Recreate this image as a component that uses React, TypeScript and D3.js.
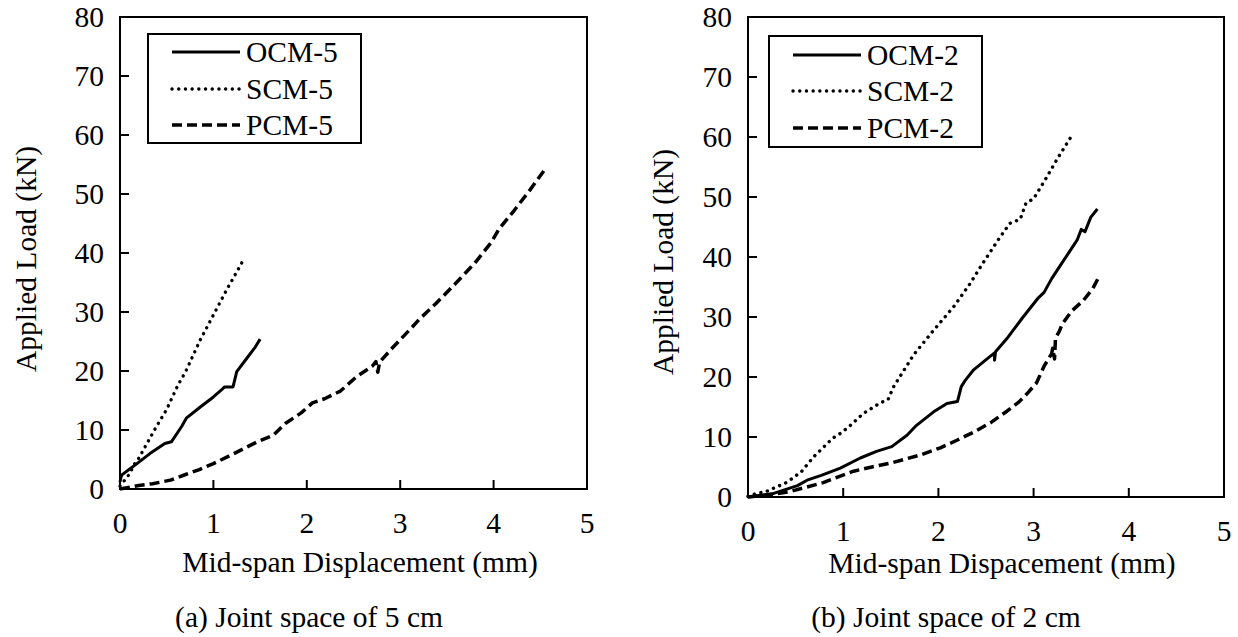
import React from "react";
import * as d3 from "d3";

// displacement (mm), load (kN)
const ocm5: [number, number][] = [
  [0, 1.2], [0.01, 2.0], [0.02, 2.4], [0.14, 3.8], [0.32, 6.0], [0.48, 7.7], [0.55, 8.0],
  [0.66, 10.6], [0.71, 12.0], [0.86, 13.9], [1.0, 15.6], [1.08, 16.7], [1.12, 17.3],
  [1.21, 17.3], [1.25, 19.9], [1.36, 22.2], [1.45, 24.1], [1.5, 25.4],
];
const scm5: [number, number][] = [
  [0, 0.5], [0.1, 2.5], [0.16, 4.4], [0.2, 5.2], [0.39, 10.6], [0.5, 13.5], [0.62, 17.6],
  [0.7, 19.8], [0.86, 25.3], [1.0, 29.5], [1.15, 34.0], [1.25, 36.8], [1.32, 38.8],
];
const pcm5: [number, number][] = [
  [0, 0], [0.2, 0.6], [0.35, 0.9], [0.54, 1.5], [0.71, 2.5], [0.85, 3.3], [1.0, 4.3],
  [1.22, 6.0], [1.47, 8.0], [1.64, 9.1], [1.77, 11.1], [1.94, 12.9], [2.06, 14.6],
  [2.19, 15.3], [2.36, 16.6], [2.53, 19.0], [2.7, 20.8], [2.74, 21.6], [2.76, 19.8],
  [2.78, 21.5], [2.91, 23.8], [3.12, 27.3], [3.2, 28.7], [3.38, 31.4], [3.59, 34.8],
  [3.8, 38.3], [3.97, 41.7], [4.06, 44.1], [4.22, 47.2], [4.39, 50.7], [4.56, 54.4],
];

const ocm2: [number, number][] = [
  [0, 0], [0.1, 0.2], [0.27, 0.6], [0.52, 1.9], [0.62, 2.8], [0.77, 3.6], [0.97, 4.8],
  [1.18, 6.5], [1.35, 7.6], [1.51, 8.4], [1.67, 10.3], [1.76, 11.8], [1.95, 14.2],
  [2.09, 15.6], [2.2, 15.9], [2.24, 18.4], [2.28, 19.4], [2.37, 21.2], [2.54, 23.4],
  [2.59, 24.0], [2.59, 22.8], [2.6, 24.2], [2.72, 26.4], [2.89, 30.0], [3.05, 33.2],
  [3.11, 34.1], [3.19, 36.4], [3.29, 38.8], [3.46, 42.9], [3.5, 44.6], [3.54, 44.2],
  [3.6, 46.6], [3.67, 48.0],
];
const scm2: [number, number][] = [
  [0, 0.1], [0.09, 0.6], [0.19, 0.9], [0.39, 2.3], [0.44, 2.8], [0.56, 4.2], [0.69, 6.7],
  [0.89, 9.8], [0.97, 10.6], [1.06, 11.7], [1.21, 13.9], [1.39, 15.7], [1.47, 16.2],
  [1.53, 18.4], [1.74, 23.7], [1.95, 27.8], [2.16, 31.7], [2.33, 35.5], [2.46, 38.8],
  [2.63, 42.9], [2.75, 45.6], [2.86, 46.3], [2.92, 49.0], [3.0, 49.7], [3.13, 53.1],
  [3.25, 56.4], [3.4, 60.2],
];
const pcm2: [number, number][] = [
  [0, 0], [0.2, 0.3], [0.44, 0.9], [0.79, 2.4], [1.11, 4.3], [1.3, 5.0], [1.51, 5.7],
  [1.81, 7.0], [2.02, 8.2], [2.2, 9.5], [2.37, 10.8], [2.55, 12.4], [2.72, 14.3],
  [2.85, 15.9], [2.93, 17.2], [3.03, 19.0], [3.11, 21.8], [3.19, 23.9], [3.2, 24.8],
  [3.22, 23.0], [3.23, 26.5], [3.27, 27.6], [3.3, 28.8], [3.4, 31.0], [3.52, 32.7],
  [3.62, 34.7], [3.69, 36.8],
];

const xTicks = [0, 1, 2, 3, 4, 5];
const yTicks = [0, 10, 20, 30, 40, 50, 60, 70, 80];

const FONT = "'Liberation Serif', 'Times New Roman', serif";
const FS = 29.5;

const styles = [
  { width: 3, dash: "none", cap: "butt" },
  { width: 3.4, dash: "0.1 6.6", cap: "round" },
  { width: 3.5, dash: "10 5", cap: "butt" },
];

type PanelProps = {
  left: number; right: number; top: number; bottom: number;
  series: [number, number][][];
  names: string[];
  xTitle: string; xTitleX: number; xTitleY: number;
  caption: string; captionX: number; captionY: number;
  yTitleX: number; yTitleY: number;
  legend: { x0: number; y0: number; x1: number; y1: number; lineX0: number; lineX1: number; rows: number[] };
};

const Panel = (p: PanelProps) => {
  const x = d3.scaleLinear().domain([0, 5]).range([p.left, p.right]);
  const y = d3.scaleLinear().domain([0, 80]).range([p.bottom, p.top]);
  const line = d3.line<[number, number]>().x((d) => x(d[0])).y((d) => y(d[1]));
  const tick = 9;
  return (
    <g fontFamily={FONT} fontSize={FS} fill="#000">
      {p.series.map((s, i) => (
        <path key={i} d={line(s) || ""} fill="none" stroke="#000"
          strokeWidth={styles[i].width} strokeDasharray={styles[i].dash}
          strokeLinecap={styles[i].cap as any} strokeLinejoin="round" />
      ))}
      <rect x={p.left} y={p.top} width={p.right - p.left} height={p.bottom - p.top}
        fill="none" stroke="#000" strokeWidth={2} />
      {xTicks.map((t) => (
        <g key={"x" + t}>
          <line x1={x(t)} x2={x(t)} y1={p.bottom} y2={p.bottom - tick} stroke="#000" strokeWidth={2} />
          <text x={x(t)} y={p.bottom + 44} textAnchor="middle">{t}</text>
        </g>
      ))}
      {yTicks.map((t) => (
        <g key={"y" + t}>
          <line x1={p.left} x2={p.left + tick} y1={y(t)} y2={y(t)} stroke="#000" strokeWidth={2} />
          <text x={p.left - 16} y={y(t) + 10} textAnchor="end">{t}</text>
        </g>
      ))}
      <text x={p.xTitleX} y={p.xTitleY + 10} textAnchor="middle">{p.xTitle}</text>
      <text x={p.captionX} y={p.captionY + 10} textAnchor="middle">{p.caption}</text>
      <text transform={`translate(${p.yTitleX + 10},${p.yTitleY}) rotate(-90)`} textAnchor="middle">
        Applied Load (kN)
      </text>
      <rect x={p.legend.x0} y={p.legend.y0} width={p.legend.x1 - p.legend.x0}
        height={p.legend.y1 - p.legend.y0} fill="#fff" stroke="#000" strokeWidth={2} />
      {p.names.map((n, i) => (
        <g key={n}>
          <line x1={p.legend.lineX0} x2={p.legend.lineX1} y1={p.legend.rows[i]} y2={p.legend.rows[i]}
            stroke="#000" strokeWidth={styles[i].width} strokeDasharray={styles[i].dash}
            strokeLinecap={styles[i].cap as any} />
          <text x={p.legend.lineX1 + 6} y={p.legend.rows[i] + 10}>{n}</text>
        </g>
      ))}
    </g>
  );
};

export default function App() {
  return (
    <svg width={1238} height={637} style={{ position: "absolute", left: 0, top: 0, background: "#fff" }}>
      <Panel left={120} right={587} top={17} bottom={489}
        series={[ocm5, scm5, pcm5]} names={["OCM-5", "SCM-5", "PCM-5"]}
        xTitle="Mid-span Displacement (mm)" xTitleX={360} xTitleY={562}
        caption="(a) Joint space of 5 cm" captionX={309} captionY={617}
        yTitleX={26} yTitleY={259}
        legend={{ x0: 148, y0: 34, x1: 361, y1: 143, lineX0: 172, lineX1: 240, rows: [52, 89, 125] }} />
      <Panel left={748} right={1224} top={17} bottom={497}
        series={[ocm2, scm2, pcm2]} names={["OCM-2", "SCM-2", "PCM-2"]}
        xTitle="Mid-span Dispacement (mm)" xTitleX={1002} xTitleY={563}
        caption="(b) Joint space of 2 cm" captionX={946} captionY={617}
        yTitleX={663} yTitleY={262}
        legend={{ x0: 769, y0: 36, x1: 982, y1: 147, lineX0: 793, lineX1: 861, rows: [55, 91, 128] }} />
    </svg>
  );
}
